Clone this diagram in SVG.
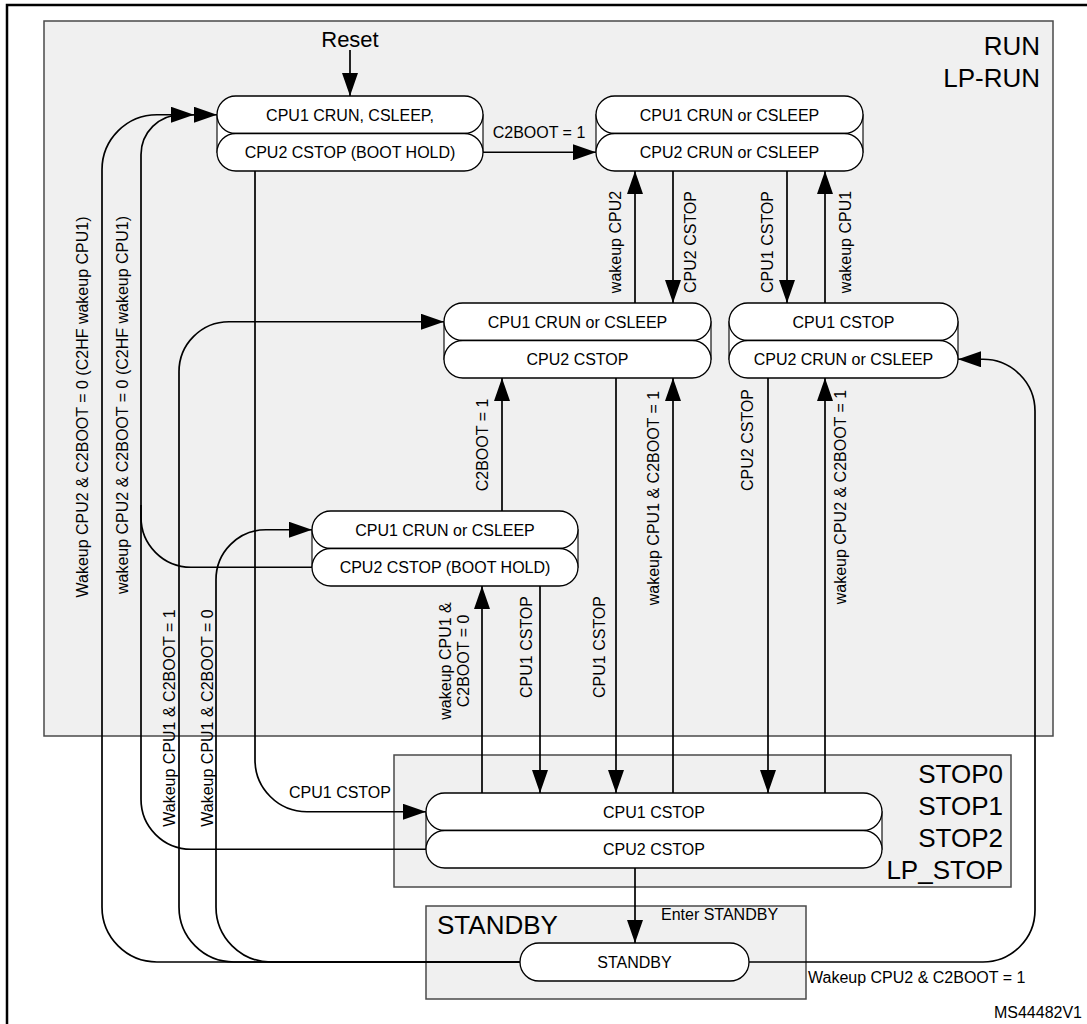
<svg xmlns="http://www.w3.org/2000/svg" width="1087" height="1024" viewBox="0 0 1087 1024">
<style>
.bg{fill:#ffffff}
.frame{fill:none;stroke:#000;stroke-width:2.5}
.box{fill:#f0f0f0;stroke:#4a4a4a;stroke-width:1.5}
.pill{fill:#ffffff;stroke:#000;stroke-width:1.3}
.back{fill:#ffffff;stroke:#000;stroke-width:1.1}
.conn{fill:none;stroke:#000;stroke-width:1.7}
.arr{marker-end:url(#ah)}
text{font-family:"Liberation Sans",Arial,Helvetica,sans-serif;fill:#000}
.t{font-size:16px}
.c{text-anchor:middle}
.e{text-anchor:end}
.big{font-size:26px}
.rs{font-size:22px}
</style>
<defs>
<marker id="ah" viewBox="0 0 23 16" refX="23" refY="8" markerWidth="23" markerHeight="16" markerUnits="userSpaceOnUse" orient="auto">
<path d="M0,0 L23,8 L0,16 Z" fill="#000"/>
</marker>
</defs>
<rect class="bg" x="0" y="0" width="1087" height="1024"/>
<path class="frame" d="M7,1024 V5 H1087"/>

<g id="regions">
<rect class="box" x="44" y="21" width="1009" height="715"/>
<rect class="box" x="394" y="755" width="617" height="132"/>
<rect class="box" x="426" y="906" width="380" height="93"/>
<text class="big e" x="1040" y="55">RUN</text>
<text class="big e" x="1040" y="87">LP-RUN</text>
<text class="big e" x="1003" y="783">STOP0</text>
<text class="big e" x="1003" y="815">STOP1</text>
<text class="big e" x="1003" y="847">STOP2</text>
<text class="big e" x="1003" y="879">LP_STOP</text>
<text class="big" x="437" y="934">STANDBY</text>
</g>

<g id="connectors">
<path class="conn arr" d="M350,50 V96"/>
<path class="conn arr" d="M483,152.25 H596"/>
<path class="conn arr" d="M635,303 V171"/>
<path class="conn arr" d="M673,171 V303"/>
<path class="conn arr" d="M787,171 V303"/>
<path class="conn arr" d="M825,303 V171"/>
<path class="conn arr" d="M616,378 V793"/>
<path class="conn arr" d="M673,793 V378"/>
<path class="conn arr" d="M768,378 V793"/>
<path class="conn arr" d="M825,793 V378"/>
<path class="conn arr" d="M502,511 V378"/>
<path class="conn arr" d="M482,793 V586"/>
<path class="conn arr" d="M540,586 V793"/>
<path class="conn arr" d="M635,868 V943"/>
<path class="conn arr" d="M255,171 V759.75 A52,52 0 0 0 307,811.75 H426"/>
<path class="conn arr" d="M426,849.25 H191 A50,50 0 0 1 141,799.25 V154.75 A40,40 0 0 1 181,114.75 H217"/>
<path class="conn" d="M312,567.25 H191 A50,50 0 0 1 141,517.25 V505"/>
<path class="conn arr" d="M520,962 H157 A55,55 0 0 1 102,907 V169.75 A55,55 0 0 1 157,114.75 H194"/>
<path class="conn arr" d="M520,962 H234 A55,55 0 0 1 179,907 V371.75 A50,50 0 0 1 229,321.75 H444"/>
<path class="conn arr" d="M520,962 H271 A55,55 0 0 1 216,907 V579.75 A50,50 0 0 1 266,529.75 H312"/>
<path class="conn arr" d="M749,962 H983 A52,52 0 0 0 1035,910 V411.25 A52,52 0 0 0 983,359.25 H958"/>

<text class="rs c" x="350" y="47">Reset</text>
<text class="t c" x="539" y="138">C2BOOT = 1</text>
<text class="t c" x="340" y="798">CPU1 CSTOP</text>
<text class="t" x="661" y="920">Enter STANDBY</text>
<text class="t" x="808" y="983">Wakeup CPU2 &amp; C2BOOT = 1</text>
<text class="t c" transform="translate(620.7,242) rotate(-90)">wakeup CPU2</text>
<text class="t c" transform="translate(695.7,242) rotate(-90)">CPU2 CSTOP</text>
<text class="t c" transform="translate(772.7,242) rotate(-90)">CPU1 CSTOP</text>
<text class="t c" transform="translate(850.7,242) rotate(-90)">wakeup CPU1</text>
<text class="t c" transform="translate(487.7,445) rotate(-90)">C2BOOT = 1</text>
<text class="t c" transform="translate(658.7,498) rotate(-90)">wakeup CPU1 &amp; C2BOOT = 1</text>
<text class="t c" transform="translate(752.7,440) rotate(-90)">CPU2 CSTOP</text>
<text class="t c" transform="translate(845.7,497) rotate(-90)">wakeup CPU2 &amp; C2BOOT = 1</text>
<text class="t c" transform="translate(450.7,661) rotate(-90)">wakeup CPU1 &amp;</text>
<text class="t c" transform="translate(468.7,661) rotate(-90)">C2BOOT = 0</text>
<text class="t c" transform="translate(531.7,647) rotate(-90)">CPU1 CSTOP</text>
<text class="t c" transform="translate(604.7,647) rotate(-90)">CPU1 CSTOP</text>
<text class="t c" transform="translate(87.7,407) rotate(-90)">Wakeup CPU2 &amp; C2BOOT = 0 (C2HF wakeup CPU1)</text>
<text class="t c" transform="translate(127.7,405) rotate(-90)">wakeup CPU2 &amp; C2BOOT = 0 (C2HF wakeup CPU1)</text>
<text class="t c" transform="translate(174.7,718) rotate(-90)">Wakeup CPU1 &amp; C2BOOT = 1</text>
<text class="t c" transform="translate(212.7,718) rotate(-90)">Wakeup CPU1 &amp; C2BOOT = 0</text>
</g>

<g id="node-A">
<rect class="back" x="217" y="114.75" width="266" height="37.5"/>
<rect class="pill" x="217" y="96" width="266" height="37.5" rx="18.75"/>
<rect class="pill" x="217" y="133.5" width="266" height="37.5" rx="18.75"/>
<text class="t c" x="350" y="120.5">CPU1 CRUN, CSLEEP,</text>
<text class="t c" x="350" y="158">CPU2 CSTOP (BOOT HOLD)</text>
</g>

<g id="node-C">
<rect class="back" x="596" y="114.75" width="267" height="37.5"/>
<rect class="pill" x="596" y="96" width="267" height="37.5" rx="18.75"/>
<rect class="pill" x="596" y="133.5" width="267" height="37.5" rx="18.75"/>
<text class="t c" x="729.5" y="120.5">CPU1 CRUN or CSLEEP</text>
<text class="t c" x="729.5" y="158">CPU2 CRUN or CSLEEP</text>
</g>

<g id="node-B">
<rect class="back" x="444" y="321.75" width="267" height="37.5"/>
<rect class="pill" x="444" y="303" width="267" height="37.5" rx="18.75"/>
<rect class="pill" x="444" y="340.5" width="267" height="37.5" rx="18.75"/>
<text class="t c" x="577.5" y="327.5">CPU1 CRUN or CSLEEP</text>
<text class="t c" x="577.5" y="365">CPU2 CSTOP</text>
</g>

<g id="node-E">
<rect class="back" x="729" y="321.75" width="229" height="37.5"/>
<rect class="pill" x="729" y="303" width="229" height="37.5" rx="18.75"/>
<rect class="pill" x="729" y="340.5" width="229" height="37.5" rx="18.75"/>
<text class="t c" x="843.5" y="327.5">CPU1 CSTOP</text>
<text class="t c" x="843.5" y="365">CPU2 CRUN or CSLEEP</text>
</g>

<g id="node-D">
<rect class="back" x="312" y="529.75" width="266" height="37.5"/>
<rect class="pill" x="312" y="511" width="266" height="37.5" rx="18.75"/>
<rect class="pill" x="312" y="548.5" width="266" height="37.5" rx="18.75"/>
<text class="t c" x="445" y="535.5">CPU1 CRUN or CSLEEP</text>
<text class="t c" x="445" y="573">CPU2 CSTOP (BOOT HOLD)</text>
</g>

<g id="node-S">
<rect class="back" x="426" y="811.75" width="456" height="37.5"/>
<rect class="pill" x="426" y="793" width="456" height="37.5" rx="18.75"/>
<rect class="pill" x="426" y="830.5" width="456" height="37.5" rx="18.75"/>
<text class="t c" x="654" y="817.5">CPU1 CSTOP</text>
<text class="t c" x="654" y="855">CPU2 CSTOP</text>
</g>

<g id="node-STANDBY">
<rect class="pill" x="520" y="943" width="229" height="38" rx="19"/>
<text class="t c" x="634.5" y="967.7">STANDBY</text>
</g>

<text class="t e" x="1082" y="1018">MS44482V1</text>
</svg>
